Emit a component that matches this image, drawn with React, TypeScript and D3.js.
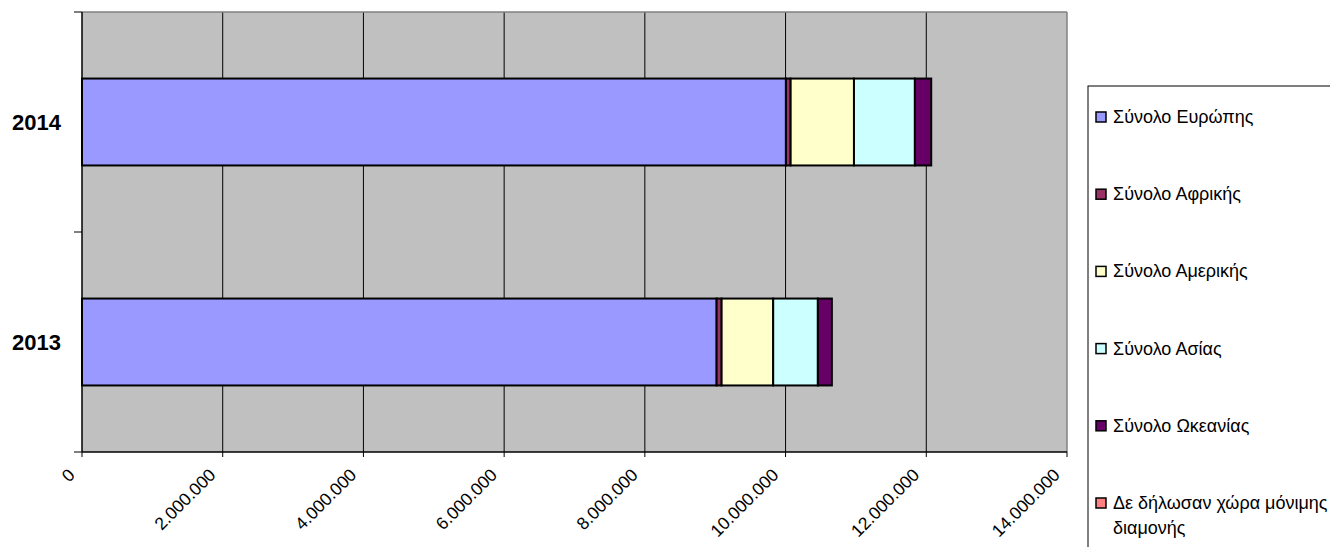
import React from "react";
import * as d3 from "d3";

const years = ["2014", "2013"];
const seriesNames = [
  "Σύνολο Ευρώπης",
  "Σύνολο Αφρικής",
  "Σύνολο Αμερικής",
  "Σύνολο Ασίας",
  "Σύνολο Ωκεανίας",
  "Δε δήλωσαν χώρα μόνιμης διαμονής",
];
const seriesColors = ["#9999FF", "#993366", "#FFFFCC", "#CCFFFF", "#660066", "#FF8080"];
const europe = [10005000, 9020000];
const africa = [67000, 71000];
const america = [900000, 733000];
const asia = [866000, 635000];
const oceania = [232000, 199000];
const undeclared = [0, 0];
const xTicks = [0, 2000000, 4000000, 6000000, 8000000, 10000000, 12000000, 14000000];

const FONT = "Arial, 'Liberation Sans', sans-serif";

export default function App() {
  const W = 1330, H = 547;
  const left = 82, right = 1067, top = 12, bottom = 452;
  const x = d3.scaleLinear().domain([0, 14000000]).range([left, right]);
  const y = d3.scaleBand<string>().domain(years).range([top, bottom]).paddingInner(0.605).paddingOuter(0.3025);
  const series = [europe, africa, america, asia, oceania, undeclared];
  const rows = years.map((yr, i) => {
    const obj: any = { year: yr };
    series.forEach((s, k) => (obj["s" + k] = s[i]));
    return obj;
  });
  const stack = d3.stack<any>().keys(series.map((_, k) => "s" + k))(rows);
  const fmt = (v: number) => d3.format(",")(v).replace(/,/g, ".");
  const legendY = d3.scaleLinear().domain([0, 5]).range([117, 503]);

  return (
    <svg width={W} height={H} style={{ position: "absolute", left: 0, top: 0, background: "#fff" }} fontFamily={FONT}>
      <rect x={left} y={top} width={right - left} height={bottom - top} fill="#C0C0C0" />
      {xTicks.slice(1, -1).map((t) => (
        <line key={t} x1={x(t)} x2={x(t)} y1={top} y2={bottom} stroke="#000" strokeWidth={1} />
      ))}
      <line x1={left} x2={right} y1={top} y2={top} stroke="#808080" strokeWidth={1.5} />
      <line x1={right} x2={right} y1={top} y2={bottom} stroke="#808080" strokeWidth={1.5} />
      {stack.map((layer, k) =>
        layer.map((d, i) =>
          d[1] - d[0] > 0 ? (
            <rect
              key={k + "-" + i}
              x={x(d[0])}
              y={y(years[i])!}
              width={x(d[1]) - x(d[0])}
              height={y.bandwidth()}
              fill={seriesColors[k]}
              stroke="#000"
              strokeWidth={2}
            />
          ) : null
        )
      )}
      <line x1={left} x2={left} y1={top} y2={bottom} stroke="#000" strokeWidth={1.5} />
      <line x1={left} x2={right} y1={bottom} y2={bottom} stroke="#000" strokeWidth={1.5} />
      {[top, (top + bottom) / 2, bottom].map((v) => (
        <line key={v} x1={left - 8} x2={left} y1={v} y2={v} stroke="#000" strokeWidth={1} />
      ))}
      {xTicks.map((t) => (
        <g key={t}>
          <line x1={x(t)} x2={x(t)} y1={bottom} y2={bottom + 5} stroke="#000" strokeWidth={1} />
          <text
            transform={`translate(${x(t) - 6},${bottom + 24}) rotate(-45)`}
            textAnchor="end"
            fontSize={17.5}
            fill="#000"
          >
            {fmt(t)}
          </text>
        </g>
      ))}
      {years.map((yr) => (
        <text key={yr} x={12} y={y(yr)! + y.bandwidth() / 2 + 8} fontSize={22} fontWeight="bold" fill="#000">
          {yr}
        </text>
      ))}
      <rect x={1088} y={86} width={260} height={480} fill="#fff" stroke="#000" strokeWidth={1} />
      {seriesNames.map((name, k) => {
        const cy = legendY(k);
        const lines = k === 5 ? ["Δε δήλωσαν χώρα μόνιμης", "διαμονής"] : [name];
        return (
          <g key={name}>
            <rect x={1096} y={cy - 5} width={10} height={10} fill={seriesColors[k]} stroke="#000" strokeWidth={1.5} />
            {lines.map((ln, j) => (
              <text key={j} x={1113} y={cy + 6 + j * 25} fontSize={18} fill="#000">
                {ln}
              </text>
            ))}
          </g>
        );
      })}
    </svg>
  );
}
